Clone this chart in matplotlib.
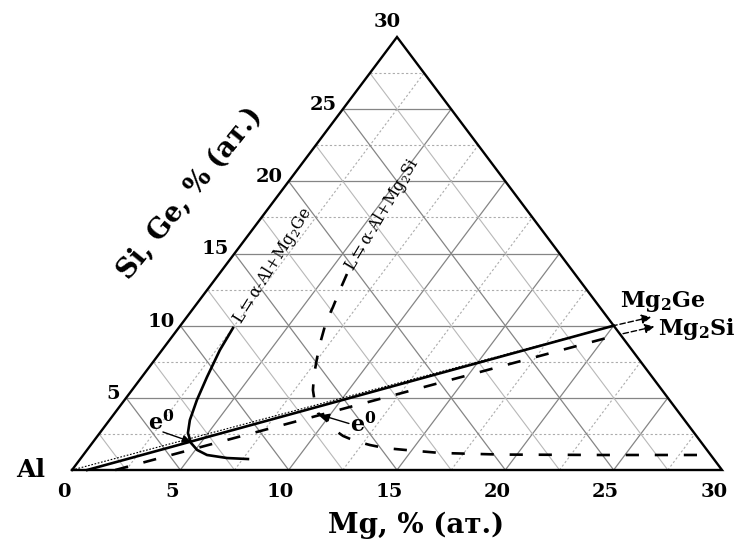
import numpy as np
import matplotlib
matplotlib.use('Agg')
import matplotlib.pyplot as plt

plt.rcParams['mathtext.fontset'] = 'dejavuserif'

# ---------------- data (Mg, Si/Ge in at.%) ----------------
mg_ticks = [0, 5, 10, 15, 20, 25, 30]
si_ticks = [5, 10, 15, 20, 25, 30]
grid_levels = [2.5, 5, 7.5, 10, 12.5, 15, 17.5, 20, 22.5, 25, 27.5]

# Al - Mg2X section (thin dotted)
tie_mg = [0.0, 20.0]
tie_si = [0.0, 10.0]
# boundary line, Ge system (solid)
ge_line_mg = [0.7, 20.0]
ge_line_si = [0.0, 10.0]
# boundary line, Si system (dashed)
si_line_mg = [2.0, 20.6]
si_line_si = [0.0, 9.4]

# L <-> a-Al + Mg2Ge  (solid curve)
ge_curve_mg = [2.51, 2.67, 3.01, 3.34, 3.71, 4.07, 4.56, 5.08, 5.71, 6.74, 7.74]
ge_curve_si = [9.84, 8.31, 6.44, 4.85, 3.46, 2.56, 1.87, 1.39, 1.04, 0.83, 0.76]

# L <-> a-Al + Mg2Si  (dashed curve)
si_curve_mg = [5.90, 6.13, 6.40, 6.60, 6.99, 7.43, 7.88, 8.35, 8.89, 9.38, 10.07,
               10.63, 11.33, 12.06, 12.89, 13.68, 14.68, 16.40, 19.22, 23.85, 28.96]
si_curve_si = [13.58, 12.47, 11.29, 10.25, 9.01, 7.76, 6.58, 5.54, 4.64, 3.95, 3.40,
               2.84, 2.36, 2.01, 1.73, 1.52, 1.39, 1.18, 1.07, 1.04, 1.04]

e_ge = (4.5, 1.96)
e_si = (9.6, 3.8)
compound = (20.0, 10.0)

FAM = ['DejaVu Serif', 'DejaVu Sans']


def tp(m, s):
    m = np.asarray(m, dtype=float)
    s = np.asarray(s, dtype=float)
    return m + s / 2.0, s


fig = plt.figure(figsize=(7.42, 5.39), dpi=100)
ax = fig.add_axes([0, 0, 1, 1])
ppx = 650 / 30.0
ppy = 433 / 30.0
ax.set_xlim(-72 / ppx, (742 - 72) / ppx)
ax.set_ylim(-(539 - 470) / ppy, 470 / ppy)
ax.axis('off')

DARK = '#858585'
LIGHT = '#b8b8b8'
DOT = '#acacac'

for v in grid_levels:
    major = abs(v % 5) < 1e-9
    # horizontal (constant Si)
    x, y = tp([0, 30 - v], [v, v])
    if major:
        ax.plot(x, y, color=DARK, lw=0.9, zorder=1)
    else:
        ax.plot(x, y, color=DOT, lw=0.8, ls=(0, (2, 2)), zorder=1)
    # constant Mg (parallel to left side)
    x, y = tp([v, v], [0, 30 - v])
    if major:
        ax.plot(x, y, color=DARK, lw=0.9, zorder=1)
    else:
        ax.plot(x, y, color=DOT, lw=0.8, ls=(0, (2, 2)), zorder=1)
    # constant Mg+Si (parallel to right side)
    x, y = tp([v, 0], [0, v])
    if major:
        ax.plot(x, y, color=DARK, lw=0.9, zorder=1)
    else:
        ax.plot(x, y, color=LIGHT, lw=0.8, zorder=1)

# triangle border
x, y = tp([0, 30, 0, 0], [0, 0, 30, 0])
ax.plot(x, y, color='black', lw=1.7, zorder=3, solid_joinstyle='miter')

# lines
x, y = tp(tie_mg, tie_si)
ax.plot(x, y, color='black', lw=0.8, ls=(0, (1.5, 1.5)), zorder=4)
x, y = tp(ge_line_mg, ge_line_si)
ax.plot(x, y, color='black', lw=1.9, zorder=4)
x, y = tp(si_line_mg, si_line_si)
ax.plot(x, y, color='black', lw=1.9, ls=(0, (5, 6)), zorder=4)
x, y = tp(ge_curve_mg, ge_curve_si)
ax.plot(x, y, color='black', lw=1.9, zorder=4, solid_joinstyle='round')
x, y = tp(si_curve_mg, si_curve_si)
ax.plot(x, y, color='black', lw=1.9, ls=(0, (5, 6)), zorder=4)

bold = dict(fontfamily=FAM, fontweight='bold', color='black')

# bottom tick labels
for v in mg_ticks:
    ax.annotate(str(v), xy=tp(v, 0), xytext=(-5.8, -15.8), textcoords='offset points',
                ha='center', va='center', fontsize=14, **bold)
# left tick labels
for v in si_ticks:
    if v == 30:
        ax.annotate(str(v), xy=tp(0, v), xytext=(-7.2, 10.5), textcoords='offset points',
                    ha='center', va='center', fontsize=14, **bold)
    else:
        ax.annotate(str(v), xy=tp(0, v), xytext=(-4.3, 2.9), textcoords='offset points',
                    ha='right', va='center', fontsize=14, **bold)

ax.annotate('Al', xy=tp(0, 0), xytext=(-30, 0), textcoords='offset points',
            ha='center', va='center', fontsize=18, **bold)

# axis titles
fig.text(416 / 742, 1 - 533 / 539, 'Mg, % (ат.)', ha='center', va='baseline',
         fontsize=20, **bold)
fig.text(190 / 742, 1 - 193 / 539, 'Si, Ge, % (ат.)', ha='center', va='center',
         rotation=51, fontsize=19.5, **bold)

# compound labels and arrows
cx, cy = tp(*compound)
ax.annotate(r'Mg$_\mathbf{2}$Ge', xy=(cx, cy), xytext=(4.5, 13.5), textcoords='offset points',
            ha='left', va='baseline', fontsize=16, **bold)
ax.annotate(r'Mg$_\mathbf{2}$Si', xy=(cx, cy), xytext=(32, -6.7), textcoords='offset points',
            ha='left', va='baseline', fontsize=16, **bold)
ax.annotate('', xy=(cx, cy), xycoords='data', xytext=(27, 6.2), textcoords='offset points',
            arrowprops=dict(arrowstyle='<|-', color='black', lw=1.0, ls=(0, (4, 2)),
                            mutation_scale=14, shrinkA=0, shrinkB=0))
x2, y2 = tp(si_line_mg[-1], si_line_si[-1])
ax.annotate('', xy=(x2, y2), xycoords='data', xytext=(28.5, 6.5), textcoords='offset points',
            arrowprops=dict(arrowstyle='<|-', color='black', lw=1.0, ls=(0, (4, 2)),
                            mutation_scale=14, shrinkA=4, shrinkB=0))

# eutectic points
gx, gy = tp(*e_ge)
ax.annotate('', xy=(gx, gy), xytext=(-20, 7), textcoords='offset points',
            arrowprops=dict(arrowstyle='-|>', color='black', lw=1.0,
                            mutation_scale=12, shrinkA=0, shrinkB=0))
ax.annotate(r'e$^\mathbf{0}$', xy=(gx, gy), xytext=(-21, 14), textcoords='offset points',
            ha='center', va='center', fontsize=16, **bold)
sx, sy = tp(*e_si)
ax.annotate('', xy=(sx, sy), xytext=(20, -6), textcoords='offset points',
            arrowprops=dict(arrowstyle='-|>', color='black', lw=1.0,
                            mutation_scale=12, shrinkA=0, shrinkB=0))
ax.annotate(r'e$^\mathbf{0}$', xy=(sx, sy), xytext=(30, -7), textcoords='offset points',
            ha='center', va='center', fontsize=16, **bold)

# curve labels
fig.text(273 / 742, 1 - 266 / 539, r'L$\leftrightarrows$α-Al+Mg$_2$Ge', ha='center',
         va='center', rotation=58, fontsize=11.5, fontfamily=FAM, color='black')
fig.text(382 / 742, 1 - 215 / 539, r'L$\leftrightarrows$α-Al+Mg$_2$Si', ha='center',
         va='center', rotation=59, fontsize=11.5, fontfamily=FAM, color='black')

fig.savefig('out.png', dpi=100)
